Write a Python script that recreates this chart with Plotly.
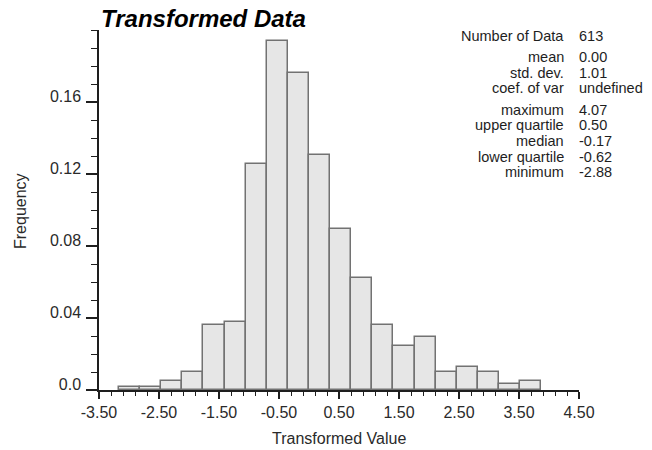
import plotly.graph_objects as go

# Histogram of the normal-score transformed values
counts = [1, 1, 3, 6, 22, 23, 77, 119, 108, 80, 55, 38, 22, 15, 18, 6, 8, 6, 2, 3]
n_data = 613
bin_start = -3.168
bin_width = 0.352

x_tick_vals = [-3.5, -2.5, -1.5, -0.5, 0.5, 1.5, 2.5, 3.5, 4.5]
x_tick_text = ["-3.50", "-2.50", "-1.50", "-0.50", "0.50", "1.50", "2.50", "3.50", "4.50"]
y_tick_vals = [0.0, 0.04, 0.08, 0.12, 0.16]
y_tick_text = ["0.0", "0.04", "0.08", "0.12", "0.16"]

stat_labels = ["Number of Data", "mean", "std. dev.", "coef. of var",
               "maximum", "upper quartile", "median", "lower quartile", "minimum"]
stat_values = ["613", "0.00", "1.01", "undefined",
               "4.07", "0.50", "-0.17", "-0.62", "-2.88"]

freq = [c / n_data for c in counts]
centers = [bin_start + (i + 0.5) * bin_width for i in range(len(counts))]

W, H = 652, 450
ML, MR, MT, MB = 99, 73, 30, 60
PW, PH = W - ML - MR, H - MT - MB


def px_x(px):
    return (px - ML) / PW


def px_y(py):
    return (H - MB - py) / PH


FONT = "Liberation Sans, Arial, Helvetica, sans-serif"
INK = "#1e1e1e"

fig = go.Figure()
fig.add_trace(go.Bar(
    x=centers, y=freq, width=bin_width,
    marker=dict(color="#e6e6e6", line=dict(color="#727272", width=1.5)),
    hoverinfo="x+y",
))

axis_common = dict(
    showgrid=False, zeroline=False, showline=True,
    linecolor=INK, linewidth=1.5,
    ticks="outside", tickcolor=INK, tickwidth=1.5,
    tickfont=dict(family=FONT, size=16, color="#2a2a2a"),
    tickmode="array",
)

fig.update_layout(
    width=W, height=H,
    margin=dict(l=ML, r=MR, t=MT, b=MB),
    paper_bgcolor="white", plot_bgcolor="white",
    showlegend=False, bargap=0,
    xaxis=dict(
        range=[-3.5, 4.5], tickvals=x_tick_vals, ticktext=x_tick_text,
        ticklen=7,
        minor=dict(ticks="outside", tickmode="linear", tick0=-3.5, dtick=0.2,
                   ticklen=4, tickwidth=1.2, tickcolor=INK),
        **axis_common,
    ),
    yaxis=dict(
        range=[0, 0.2], tickvals=y_tick_vals, ticktext=y_tick_text,
        ticklen=11, ticklabelshift=-6, ticklabelstandoff=2,
        minor=dict(ticks="outside", tickmode="linear", tick0=0, dtick=0.01,
                   ticklen=6, tickwidth=1.2, tickcolor=INK),
        **axis_common,
    ),
)

annotations = [
    dict(text="<b><i>Transformed Data</i></b>", x=px_x(99), y=px_y(18.5),
         xanchor="left", yanchor="middle",
         font=dict(family=FONT, size=24, color="black")),
    dict(text="Transformed Value", x=0.5, y=px_y(438),
         xanchor="center", yanchor="middle",
         font=dict(family=FONT, size=16, color="#2a2a2a")),
    dict(text="Frequency", x=px_x(20), y=px_y(211), textangle=-90,
         xanchor="center", yanchor="middle",
         font=dict(family=FONT, size=16, color="#2a2a2a")),
]

# statistics summary block, one row per entry
stat_rows_y = [36, 57, 72.5, 88, 110, 125.5, 141, 156.5, 172]
for label, value, ry in zip(stat_labels, stat_values, stat_rows_y):
    annotations.append(dict(text=label, x=px_x(566), y=px_y(ry),
                            xanchor="right", yanchor="middle",
                            font=dict(family=FONT, size=14.5, color="#1e1e1e")))
    annotations.append(dict(text=value, x=px_x(577), y=px_y(ry),
                            xanchor="left", yanchor="middle",
                            font=dict(family=FONT, size=14.5, color="#1e1e1e")))

for a in annotations:
    a.update(xref="paper", yref="paper", showarrow=False)
fig.update_layout(annotations=annotations)

fig.write_html("out.html")
